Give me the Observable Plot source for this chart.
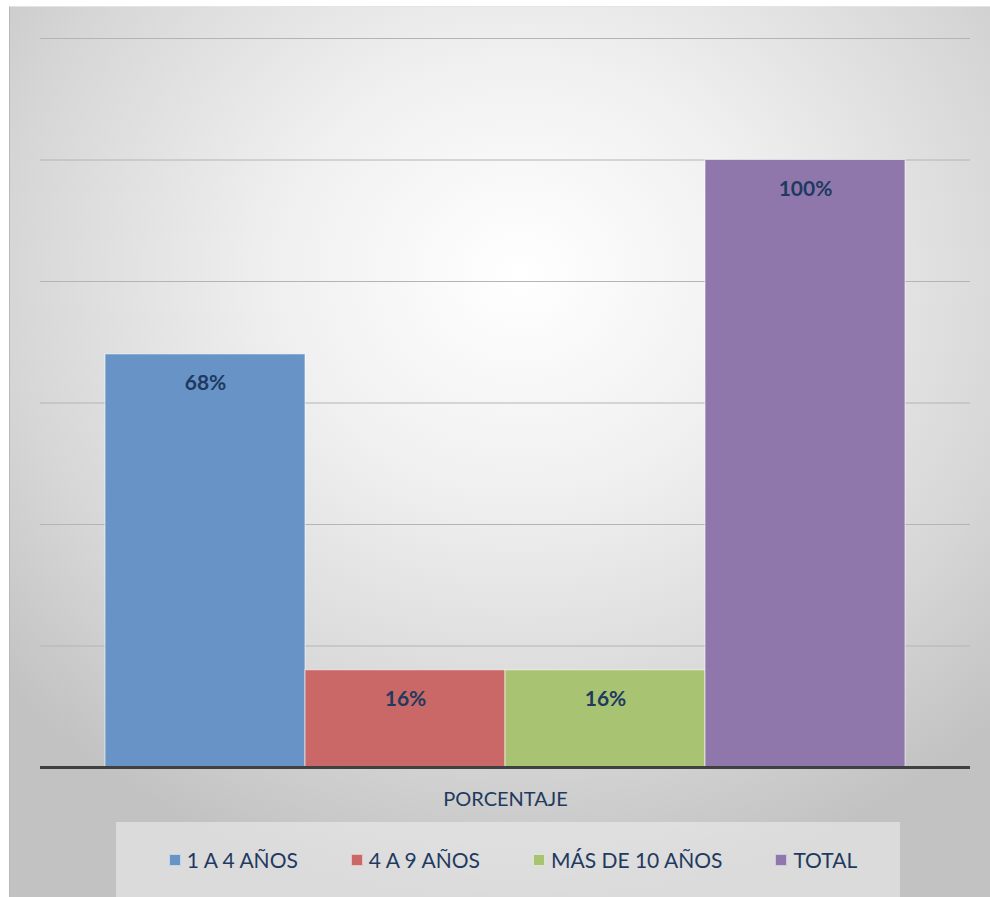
<!DOCTYPE html>
<html><head><meta charset="utf-8">
<script src="https://cdn.jsdelivr.net/npm/d3@7"></script>
<script src="https://cdn.jsdelivr.net/npm/@observablehq/plot@0.6"></script>
<style>
body{margin:0;background:#fff;}
#wrap{position:relative;width:990px;height:897px;overflow:hidden;font-family:Lato,"Open Sans",sans-serif;}
#panel{position:absolute;left:9px;top:6px;width:981px;height:891px;background:radial-gradient(ellipse 70% 70% at 52% 30%, #ffffff 0%, #f0f0f0 35%, #d6d6d6 75%, #c2c2c2 100%);border-left:1px solid #b8b8b8;border-top:1px solid #e4e4e4;box-sizing:border-box;}
#chart{position:absolute;left:0;top:0;}
#legend{position:absolute;left:116px;top:822px;width:784px;height:75px;background:rgba(240,240,240,0.55);display:flex;align-items:center;justify-content:center;gap:53px;padding-left:10px;box-sizing:border-box;}
.item{display:flex;align-items:center;font-size:21px;color:#1f3a60;}
.sw{width:12px;height:12px;margin-right:6px;box-sizing:border-box;border:1px solid rgba(255,255,255,0.6);}
</style>
</head><body>
<div id="wrap"><div id="panel"></div><div id="chart"></div><div id="legend"></div></div>
<script>
const categories = ["1 A 4 AÑOS", "4 A 9 AÑOS", "MÁS DE 10 AÑOS", "TOTAL"];
const values = [68, 16, 16, 100];
const valueLabels = ["68%", "16%", "16%", "100%"];
const colors = ["#6793c7", "#c96866", "#a8c472", "#8f77ac"];
const yTicks = [0, 20, 40, 60, 80, 100, 120];
const groupLabel = "PORCENTAJE";

const data = categories.map((c, i) => ({cat: c, value: values[i], label: valueLabels[i]}));

const chart = Plot.plot({
  width: 990,
  height: 815,
  marginLeft: 40,
  marginRight: 20,
  marginTop: 38,
  marginBottom: 48,
  style: {background: "transparent", overflow: "visible", fontFamily: "Lato, 'Open Sans', sans-serif"},
  x: {domain: categories, paddingInner: 0, paddingOuter: 0.32, axis: null},
  y: {domain: [0, 120], axis: null},
  color: {domain: categories, range: colors},
  marks: [
    Plot.ruleY(yTicks.filter(d => d > 0), {stroke: "#b4b4b4", strokeWidth: 1}),
    Plot.barY(data, {x: "cat", y: "value", fill: "cat", stroke: "#ffffff", strokeOpacity: 0.6, strokeWidth: 1}),
    Plot.ruleY([0], {stroke: "#404040", strokeWidth: 3}),
    Plot.text(data, {x: "cat", y: "value", text: "label", dy: 29, fill: "#1f3a60", fontWeight: "bold", fontSize: 21}),
    Plot.text([groupLabel], {frameAnchor: "bottom", dy: 38, fill: "#1f3a60", fontSize: 20})
  ]
});
document.getElementById("chart").appendChild(chart);

const legend = document.getElementById("legend");
categories.forEach((c, i) => {
  const item = document.createElement("div");
  item.className = "item";
  const sw = document.createElement("span");
  sw.className = "sw";
  sw.style.background = colors[i];
  const t = document.createElement("span");
  t.textContent = c;
  item.appendChild(sw); item.appendChild(t);
  legend.appendChild(item);
});
</script>
</body></html>
